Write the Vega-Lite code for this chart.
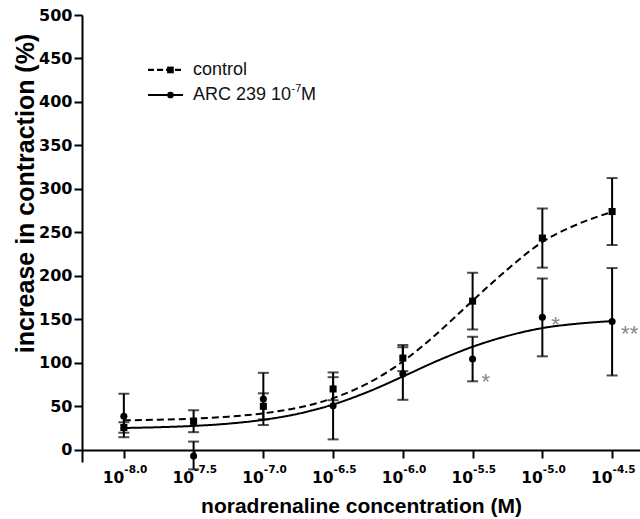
{
  "$schema": "https://vega.github.io/schema/vega-lite/v6.json",
  "width": 558,
  "height": 447,
  "autosize": {"type": "none"},
  "padding": {"left": 82, "top": 15, "right": 0, "bottom": 57},
  "background": "white",
  "config": {
    "view": {"stroke": null},
    "axis": {
      "domainColor": "#000", "domainWidth": 2,
      "tickColor": "#000", "tickWidth": 2, "tickSize": 8,
      "grid": false,
      "labelFont": "DejaVu Sans", "labelFontWeight": "bold", "labelColor": "#000", "labelFontSize": 16,
      "titleFont": "Liberation Sans", "titleFontWeight": "bold", "titleColor": "#000"
    }
  },
  "datasets": {
    "curves": [
      {"series": "control", "logc": -8.0, "value": 33.9},
      {"series": "control", "logc": -7.75, "value": 34.6},
      {"series": "control", "logc": -7.5, "value": 35.9},
      {"series": "control", "logc": -7.25, "value": 38.1},
      {"series": "control", "logc": -7.0, "value": 42.0},
      {"series": "control", "logc": -6.75, "value": 48.5},
      {"series": "control", "logc": -6.5, "value": 59.4},
      {"series": "control", "logc": -6.25, "value": 76.6},
      {"series": "control", "logc": -6.0, "value": 101.6},
      {"series": "control", "logc": -5.75, "value": 134.4},
      {"series": "control", "logc": -5.5, "value": 171.5},
      {"series": "control", "logc": -5.25, "value": 207.5},
      {"series": "control", "logc": -5.0, "value": 239},
      {"series": "control", "logc": -4.75, "value": 259.2},
      {"series": "control", "logc": -4.5, "value": 273.6},
      {"series": "ARC", "logc": -8.0, "value": 25.1},
      {"series": "ARC", "logc": -7.75, "value": 26.0},
      {"series": "ARC", "logc": -7.5, "value": 27.5},
      {"series": "ARC", "logc": -7.25, "value": 30.1},
      {"series": "ARC", "logc": -7.0, "value": 34.5},
      {"series": "ARC", "logc": -6.75, "value": 41.5},
      {"series": "ARC", "logc": -6.5, "value": 52.1},
      {"series": "ARC", "logc": -6.25, "value": 66.7},
      {"series": "ARC", "logc": -6.0, "value": 84.3},
      {"series": "ARC", "logc": -5.75, "value": 102.5},
      {"series": "ARC", "logc": -5.5, "value": 118.5},
      {"series": "ARC", "logc": -5.25, "value": 131},
      {"series": "ARC", "logc": -5.0, "value": 140},
      {"series": "ARC", "logc": -4.75, "value": 145},
      {"series": "ARC", "logc": -4.5, "value": 148}
    ],
    "points": [
      {"series": "control", "logc": -8.0, "value": 25.7, "lo": 19.7, "hi": 31.7},
      {"series": "control", "logc": -7.5, "value": 32.7, "lo": 20.3, "hi": 45.5},
      {"series": "control", "logc": -7.0, "value": 50, "lo": 35, "hi": 65},
      {"series": "control", "logc": -6.5, "value": 70, "lo": 57, "hi": 83.5},
      {"series": "control", "logc": -6.0, "value": 105.5, "lo": 90.5, "hi": 120.5},
      {"series": "control", "logc": -5.5, "value": 171, "lo": 138.4, "hi": 203.6},
      {"series": "control", "logc": -5.0, "value": 243.5, "lo": 209.5, "hi": 277.5},
      {"series": "control", "logc": -4.5, "value": 274, "lo": 235.5, "hi": 312.5},
      {"series": "ARC", "logc": -8.0, "value": 38.5, "lo": 14.5, "hi": 64.5},
      {"series": "ARC", "logc": -7.5, "value": -7, "lo": -22.5, "hi": 9.5},
      {"series": "ARC", "logc": -7.0, "value": 58.4, "lo": 28.5, "hi": 88.5},
      {"series": "ARC", "logc": -6.5, "value": 50.7, "lo": 12, "hi": 89},
      {"series": "ARC", "logc": -6.0, "value": 87.3, "lo": 57.5, "hi": 118},
      {"series": "ARC", "logc": -5.5, "value": 104.5, "lo": 78.8, "hi": 130},
      {"series": "ARC", "logc": -5.0, "value": 152.5, "lo": 107.5, "hi": 197},
      {"series": "ARC", "logc": -4.5, "value": 147.5, "lo": 85.5, "hi": 209}
    ],
    "stars": [
      {"logc": -5.5, "value": 85, "label": "*"},
      {"logc": -5.0, "value": 150.7, "label": "*"},
      {"logc": -4.5, "value": 140.6, "label": "**"}
    ],
    "ticks": [
      {"logc": -8.0, "sup": "-8.0"},
      {"logc": -7.5, "sup": "-7.5"},
      {"logc": -7.0, "sup": "-7.0"},
      {"logc": -6.5, "sup": "-6.5"},
      {"logc": -6.0, "sup": "-6.0"},
      {"logc": -5.5, "sup": "-5.5"},
      {"logc": -5.0, "sup": "-5.0"},
      {"logc": -4.5, "sup": "-4.5"}
    ]
  },
  "layer": [
    {
      "data": {"name": "curves"},
      "mark": {"type": "line", "color": "#000", "strokeWidth": 2, "interpolate": "monotone"},
      "encoding": {
        "x": {
          "field": "logc", "type": "quantitative",
          "scale": {"domain": [-8.3, -4.3], "nice": false, "zero": false},
          "axis": {
            "title": "noradrenaline concentration (M)",
            "values": [-8, -7.5, -7, -6.5, -6, -5.5, -5, -4.5],
            "labelExpr": "'10'",
            "labelFontSize": 15.5,
            "labelAlign": "right", "labelDx": -0.5,
            "labelBaseline": "alphabetic", "labelPadding": 24,
            "labelFlush": false, "labelOverlap": false,
            "offset": -12,
            "titleFontSize": 21, "titleX": 279, "titleY": 62,
            "titleBaseline": "alphabetic", "titleAlign": "center"
          }
        },
        "y": {
          "field": "value", "type": "quantitative",
          "scale": {"domain": [-14, 500], "nice": false, "zero": false},
          "axis": {
            "title": "increase in contraction (%)",
            "values": [0, 50, 100, 150, 200, 250, 300, 350, 400, 450, 500],
            "labelFontSize": 16,
            "labelPadding": 2,
            "titleFontSize": 25, "titleX": -57, "titleY": 178,
            "titleAngle": -90, "titleBaseline": "middle", "titleAlign": "center"
          }
        },
        "strokeDash": {
          "field": "series", "type": "nominal",
          "scale": {"domain": ["control", "ARC"], "range": [[7, 4], [1, 0]]},
          "legend": null
        }
      }
    },
    {
      "data": {"name": "points"},
      "mark": {"type": "rule", "color": "#000", "strokeWidth": 2},
      "encoding": {
        "x": {"field": "logc", "type": "quantitative"},
        "y": {"field": "lo", "type": "quantitative"},
        "y2": {"field": "hi"}
      }
    },
    {
      "data": {"name": "points"},
      "mark": {"type": "tick", "orient": "horizontal", "color": "#000", "size": 11, "thickness": 2},
      "encoding": {
        "x": {"field": "logc", "type": "quantitative"},
        "y": {"field": "lo", "type": "quantitative"}
      }
    },
    {
      "data": {"name": "points"},
      "mark": {"type": "tick", "orient": "horizontal", "color": "#000", "size": 11, "thickness": 2},
      "encoding": {
        "x": {"field": "logc", "type": "quantitative"},
        "y": {"field": "hi", "type": "quantitative"}
      }
    },
    {
      "data": {"name": "points"},
      "mark": {"type": "point", "filled": true, "color": "#000", "opacity": 1, "size": 50},
      "encoding": {
        "x": {"field": "logc", "type": "quantitative"},
        "y": {"field": "value", "type": "quantitative"},
        "shape": {
          "field": "series", "type": "nominal",
          "scale": {"domain": ["control", "ARC"], "range": ["square", "circle"]},
          "legend": null
        }
      }
    },
    {
      "data": {"name": "stars"},
      "mark": {"type": "text", "align": "left", "baseline": "middle", "dx": 9, "dy": 6, "font": "Liberation Sans", "fontSize": 22, "color": "#888"},
      "encoding": {
        "x": {"field": "logc", "type": "quantitative"},
        "y": {"field": "value", "type": "quantitative"},
        "text": {"field": "label"}
      }
    },
    {
      "data": {"name": "ticks"},
      "mark": {"type": "text", "align": "left", "baseline": "alphabetic", "dx": 0.5, "font": "DejaVu Sans", "fontWeight": "bold", "fontSize": 10.5, "color": "#000"},
      "encoding": {
        "x": {"field": "logc", "type": "quantitative"},
        "y": {"datum": -27.2, "type": "quantitative"},
        "text": {"field": "sup"}
      }
    },
    {
      "data": {"values": [{}]},
      "mark": {"type": "rule", "color": "#000", "strokeWidth": 2.2, "strokeDash": [6, 3]},
      "encoding": {
        "x": {"datum": -7.827, "type": "quantitative"},
        "x2": {"datum": -7.576},
        "y": {"datum": 436.8, "type": "quantitative"}
      }
    },
    {
      "data": {"values": [{}]},
      "mark": {"type": "rule", "color": "#000", "strokeWidth": 2.2},
      "encoding": {
        "x": {"datum": -7.827, "type": "quantitative"},
        "x2": {"datum": -7.576},
        "y": {"datum": 408, "type": "quantitative"}
      }
    },
    {
      "data": {"values": [{}]},
      "mark": {"type": "point", "shape": "square", "filled": true, "color": "#000", "opacity": 1, "size": 45},
      "encoding": {
        "x": {"datum": -7.666, "type": "quantitative"},
        "y": {"datum": 436.8, "type": "quantitative"}
      }
    },
    {
      "data": {"values": [{}]},
      "mark": {"type": "point", "shape": "circle", "filled": true, "color": "#000", "opacity": 1, "size": 45},
      "encoding": {
        "x": {"datum": -7.666, "type": "quantitative"},
        "y": {"datum": 408, "type": "quantitative"}
      }
    },
    {
      "data": {"values": [{}]},
      "mark": {"type": "text", "text": "control", "align": "left", "baseline": "middle", "font": "Liberation Sans", "fontSize": 18, "color": "#111"},
      "encoding": {
        "x": {"datum": -7.504, "type": "quantitative"},
        "y": {"datum": 436.8, "type": "quantitative"}
      }
    },
    {
      "data": {"values": [{}]},
      "mark": {"type": "text", "text": "ARC 239 10", "align": "left", "baseline": "middle", "font": "Liberation Sans", "fontSize": 18, "color": "#111"},
      "encoding": {
        "x": {"datum": -7.504, "type": "quantitative"},
        "y": {"datum": 408, "type": "quantitative"}
      }
    },
    {
      "data": {"values": [{}]},
      "mark": {"type": "text", "text": "-7", "align": "left", "baseline": "middle", "dx": 98.5, "dy": -6, "font": "Liberation Sans", "fontSize": 11, "color": "#111"},
      "encoding": {
        "x": {"datum": -7.504, "type": "quantitative"},
        "y": {"datum": 408, "type": "quantitative"}
      }
    },
    {
      "data": {"values": [{}]},
      "mark": {"type": "text", "text": "M", "align": "left", "baseline": "middle", "dx": 108, "font": "Liberation Sans", "fontSize": 18, "color": "#111"},
      "encoding": {
        "x": {"datum": -7.504, "type": "quantitative"},
        "y": {"datum": 408, "type": "quantitative"}
      }
    }
  ]
}
